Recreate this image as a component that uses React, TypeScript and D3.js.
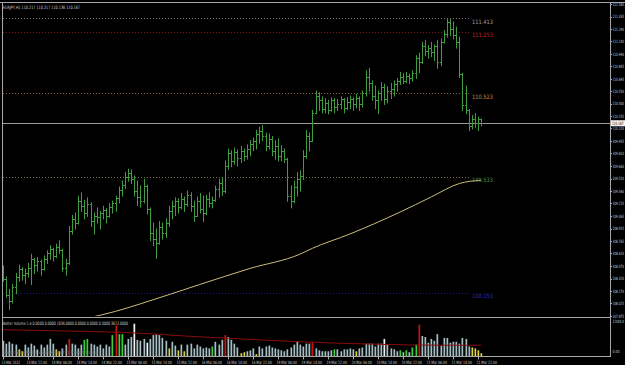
import React from "react";
import * as d3 from "d3";

const W = 625;
const H = 365;

const symbolTitle = "EURJPY,H1  110.217 110.217 110.136 110.167";
const volumeTitle = "Better Volume 1.4 0.0000 0.0000 1036.0000 0.0000 0.0000 0.0000 3672.0000";
const volumeFooter = "Better Volume 1.4  Volumes(Shift 1)  0.0000  0.0000";

const opens = [
  108.43, 108.31, 108.12, 108.05, 108.22, 108.34, 108.43, 108.36, 108.39, 108.45,
  108.55, 108.48, 108.53, 108.43, 108.55, 108.62, 108.67, 108.59, 108.69, 108.66,
  108.45, 108.50, 108.88, 109.03, 108.98, 109.24, 109.18, 109.10, 109.21, 109.00,
  109.07, 109.05, 109.10, 109.13, 109.07, 109.17, 109.22, 109.28, 109.37, 109.43,
  109.53, 109.58, 109.50, 109.36, 109.29, 109.24, 109.42, 109.15, 108.86, 108.79,
  108.74, 108.93, 108.86, 108.98, 109.12, 109.18, 109.24, 109.17, 109.27, 109.21,
  109.31, 109.18, 109.07, 109.24, 109.15, 109.10, 109.27, 109.22, 109.25, 109.39,
  109.46, 109.36, 109.66, 109.81, 109.72, 109.83, 109.75, 109.84, 109.78, 109.86,
  109.92, 109.96, 110.04, 110.08, 110.01, 109.90, 109.98, 109.84, 109.90, 109.78,
  109.84, 109.74, 109.30, 109.24, 109.41, 109.50, 109.54, 109.78, 110.02, 109.96,
  110.29, 110.49, 110.44, 110.34, 110.41, 110.32, 110.44, 110.36, 110.40, 110.45,
  110.35, 110.42, 110.46, 110.39, 110.47, 110.39, 110.53, 110.72, 110.65, 110.49,
  110.44, 110.53, 110.60, 110.46, 110.55, 110.58, 110.63, 110.67, 110.72, 110.67,
  110.73, 110.70, 110.76, 110.94, 110.89, 111.09, 111.03, 111.06, 111.01, 111.08,
  110.89, 111.13, 111.23, 111.37, 111.29, 111.22, 111.13, 110.75, 110.38, 110.32,
  110.14, 110.22, 110.17, 110.217,
];
const highs = [
  108.47, 108.34, 108.19, 108.25, 108.38, 108.48, 108.45, 108.43, 108.50, 108.61,
  108.56, 108.57, 108.54, 108.59, 108.65, 108.71, 108.68, 108.73, 108.77, 108.67,
  108.55, 108.94, 109.07, 109.10, 109.30, 109.34, 109.25, 109.28, 109.22, 109.10,
  109.16, 109.12, 109.18, 109.15, 109.21, 109.24, 109.30, 109.41, 109.48, 109.58,
  109.62, 109.61, 109.54, 109.48, 109.42, 109.50, 109.43, 109.16, 108.98, 108.91,
  109.00, 108.98, 109.03, 109.18, 109.24, 109.28, 109.27, 109.33, 109.29, 109.36,
  109.34, 109.24, 109.29, 109.33, 109.30, 109.31, 109.34, 109.29, 109.42, 109.50,
  109.52, 109.72, 109.86, 109.84, 109.87, 109.85, 109.89, 109.86, 109.91, 109.96,
  109.99, 110.08, 110.12, 110.14, 110.05, 110.04, 110.01, 109.96, 109.98, 109.90,
  109.86, 109.75, 109.42, 109.48, 109.58, 109.60, 109.84, 110.08, 110.05, 110.32,
  110.55, 110.53, 110.48, 110.46, 110.44, 110.47, 110.46, 110.45, 110.48, 110.46,
  110.47, 110.49, 110.47, 110.51, 110.48, 110.55, 110.79, 110.82, 110.67, 110.61,
  110.55, 110.65, 110.63, 110.60, 110.64, 110.67, 110.70, 110.77, 110.76, 110.77,
  110.75, 110.79, 110.97, 111.00, 111.13, 111.15, 111.09, 111.13, 111.10, 111.15,
  111.17, 111.27, 111.413, 111.40, 111.37, 111.31, 111.19, 110.76, 110.61, 110.33,
  110.26, 110.28, 110.24, 110.217,
];
const lows = [
  108.29, 108.10, 107.95, 108.03, 108.14, 108.29, 108.30, 108.26, 108.34, 108.25,
  108.38, 108.41, 108.36, 108.42, 108.50, 108.55, 108.53, 108.57, 108.62, 108.41,
  108.36, 108.49, 108.85, 108.91, 108.97, 109.12, 109.03, 109.06, 108.94, 108.85,
  108.98, 108.91, 109.03, 108.98, 109.05, 109.10, 109.12, 109.22, 109.30, 109.39,
  109.48, 109.45, 109.30, 109.19, 109.17, 109.22, 109.09, 108.77, 108.71, 108.56,
  108.73, 108.79, 108.81, 108.94, 109.03, 109.07, 109.10, 109.15, 109.12, 109.18,
  109.12, 109.00, 109.06, 109.10, 109.00, 109.08, 109.17, 109.16, 109.24, 109.29,
  109.31, 109.34, 109.62, 109.65, 109.68, 109.66, 109.70, 109.72, 109.74, 109.78,
  109.84, 109.86, 109.93, 109.96, 109.84, 109.86, 109.78, 109.74, 109.72, 109.72,
  109.70, 109.24, 109.16, 109.22, 109.30, 109.36, 109.50, 109.75, 109.84, 109.95,
  110.28, 110.32, 110.29, 110.29, 110.28, 110.31, 110.29, 110.32, 110.34, 110.29,
  110.33, 110.34, 110.32, 110.35, 110.32, 110.36, 110.49, 110.55, 110.44, 110.34,
  110.28, 110.44, 110.39, 110.41, 110.46, 110.49, 110.55, 110.63, 110.64, 110.65,
  110.64, 110.67, 110.70, 110.77, 110.88, 110.97, 110.94, 110.96, 110.91, 110.82,
  110.85, 111.12, 111.19, 111.21, 111.17, 111.06, 110.71, 110.32, 110.28, 110.08,
  110.10, 110.12, 110.08, 110.136,
];
const closes = [
  108.31, 108.12, 108.05, 108.22, 108.34, 108.43, 108.36, 108.39, 108.45, 108.55,
  108.48, 108.53, 108.43, 108.55, 108.62, 108.67, 108.59, 108.69, 108.66, 108.45,
  108.50, 108.88, 109.03, 108.98, 109.24, 109.18, 109.10, 109.21, 109.00, 109.07,
  109.05, 109.10, 109.13, 109.07, 109.17, 109.22, 109.28, 109.37, 109.43, 109.53,
  109.58, 109.50, 109.36, 109.29, 109.24, 109.42, 109.15, 108.86, 108.79, 108.74,
  108.93, 108.86, 108.98, 109.12, 109.18, 109.24, 109.17, 109.27, 109.21, 109.31,
  109.18, 109.07, 109.24, 109.15, 109.10, 109.27, 109.22, 109.25, 109.39, 109.46,
  109.36, 109.66, 109.81, 109.72, 109.83, 109.75, 109.84, 109.78, 109.86, 109.92,
  109.96, 110.04, 110.08, 110.01, 109.90, 109.98, 109.84, 109.90, 109.78, 109.84,
  109.74, 109.30, 109.24, 109.41, 109.50, 109.54, 109.78, 110.02, 109.96, 110.29,
  110.49, 110.44, 110.34, 110.41, 110.32, 110.44, 110.36, 110.40, 110.45, 110.35,
  110.42, 110.46, 110.39, 110.47, 110.39, 110.53, 110.72, 110.65, 110.49, 110.44,
  110.53, 110.60, 110.46, 110.55, 110.58, 110.63, 110.67, 110.72, 110.67, 110.73,
  110.70, 110.76, 110.94, 110.89, 111.09, 111.03, 111.06, 111.01, 111.08, 110.89,
  111.13, 111.23, 111.37, 111.29, 111.22, 111.13, 110.75, 110.38, 110.32, 110.14,
  110.22, 110.17, 110.22, 110.167,
];

// Moving average of price (bar index, value)
const maBars = [27, 36, 44, 63, 79, 95, 99, 111, 127, 137, 146, 153];
const maValues = [107.85, 107.93, 108.02, 108.25, 108.44, 108.61, 108.68, 108.85, 109.11, 109.29, 109.45, 109.49];

const volumes = [
  4800, 3900, 4500, 3900, 3600, 2100, 1500, 3600, 2700, 3900,
  3300, 2100, 3600, 2700, 3600, 5400, 3900, 2100, 1500, 2400,
  3600, 5400, 3900, 3600, 2400, 3600, 5100, 5400, 3900, 3600,
  3000, 3600, 2400, 3600, 3000, 6600, 9600, 6900, 6900, 3600,
  5400, 6000, 10200, 5100, 4800, 5400, 4200, 5400, 6600, 6900,
  6600, 5700, 4800, 2400, 4500, 3300, 1800, 3600, 1500, 3600,
  3900, 2400, 3600, 3000, 2400, 2700, 2400, 3000, 4500, 3600,
  5100, 6600, 6000, 5100, 3900, 2700, 900, 1200, 1500, 1800,
  2400, 600, 3000, 2400, 3000, 3300, 2700, 2400, 2100, 1800,
  1500, 2100, 2700, 3600, 4500, 3600, 3000, 3900, 3900, 4500,
  2400, 1800, 1500, 1500, 1500, 1800, 2100, 2100, 1500, 2100,
  2100, 2400, 2100, 1500, 2400, 2700, 3900, 3900, 3900, 3000,
  3900, 3900, 5400, 3600, 2400, 2100, 1500, 1800, 1200, 1800,
  1200, 2700, 3600, 9900, 6300, 6000, 4200, 5400, 4800, 6900,
  3300, 5700, 5700, 4200, 4500, 4500, 3900, 5700, 5400, 3000,
  2700, 2400, 1800, 900,
];
const yellowBars = [5, 6, 17, 18, 53, 56, 58, 76, 77, 81, 113, 150, 151, 152, 153];
const greenBars = [26, 27, 35, 37, 38, 67, 106, 127, 129, 131, 132];
const redBars = [21, 36, 71, 99, 133];
const whiteBars = [42, 46, 122];

const volMaBars = [0, 20, 40, 60, 80, 100, 120, 140, 153];
const volMaValues = [8300, 7900, 7400, 6200, 5200, 4300, 3700, 3400, 3400];

const priceTicks = [
  "111.585", "111.435", "111.290", "111.140", "110.990", "110.845", "110.695", "110.550",
  "110.400", "110.255", "110.105", "109.955", "109.810", "109.660", "109.510", "109.360",
  "109.215", "109.065", "108.915", "108.765", "108.620", "108.470", "108.320", "108.170",
  "108.025", "107.875",
];
const timeLabels = [
  "13 Mar 2012", "13 Mar 22:00", "14 Mar 06:00", "14 Mar 14:00", "14 Mar 22:00",
  "15 Mar 06:00", "15 Mar 14:00", "15 Mar 22:00", "16 Mar 06:00", "16 Mar 14:00",
  "16 Mar 22:00", "19 Mar 06:00", "19 Mar 14:00", "19 Mar 22:00", "20 Mar 06:00",
  "20 Mar 14:00", "20 Mar 22:00", "21 Mar 06:00", "21 Mar 14:00", "21 Mar 22:00",
];
const timeLabelBars = [0, 8, 16, 24, 32, 40, 48, 56, 64, 72, 80, 88, 96, 104, 112, 120, 128, 136, 144, 152];

const levelValues = [111.413, 111.253, 110.523, 109.533, 108.153];
const levelLineColors = ["#747474", "#8a1414", "#8a5e3c", "#7a6c50", "#1c1c8a"];
const levelLabelColors = ["#a0a0a0", "#c02020", "#cc8844", "#4a964a", "#2c2cbc"];
const bidPrice = 110.167;
const volTopLabel = "12004.0";
const volBottomLabel = "0.00";

const FONT = "'DejaVu Sans', Arial, sans-serif";
const SX = 0.62;

// small text squeezed horizontally (MT4 pixel font look)
function T(props: {
  x: number;
  y: number;
  w: number;
  size: number;
  fill: string;
  children: string;
}) {
  const { x, y, w, size, fill, children } = props;
  return (
    <text
      transform={`translate(${x},${y}) scale(${SX},1)`}
      fontSize={size}
      fill={fill}
      textLength={w / SX}
      lengthAdjust="spacingAndGlyphs"
    >
      {children}
    </text>
  );
}

export default function App() {
  const x = d3.scaleLinear().domain([0, 153]).range([3, 3 + 153 * 3.125]);
  const y = d3.scaleLinear().domain([107.875, 111.585]).range([316, 4]);
  const yv = d3.scaleLinear().domain([0, 12004]).range([356, 318]);

  const px = (i: number) => Math.round(x(i)) + 0.5;
  const snap = (v: number) => Math.round(v) + 0.5;

  const maLine = d3
    .line<number>()
    .x((_, k) => x(maBars[k]))
    .y((v) => y(v))
    .curve(d3.curveMonotoneX)(maValues) as string;

  const volMaLine = d3
    .line<number>()
    .x((_, k) => x(volMaBars[k]))
    .y((v) => yv(v))
    .curve(d3.curveMonotoneX)(volMaValues) as string;

  const volColor = (i: number) => {
    if (redBars.includes(i)) return "#d01010";
    if (greenBars.includes(i)) return "#3ccf3c";
    if (yellowBars.includes(i)) return "#e0d23c";
    if (whiteBars.includes(i)) return "#f4f4f4";
    return "#a4c0c6";
  };

  const barColor = "#3f9c3f";
  const frame = "#a8a8a8";
  const textColor = "#cfcfcf";

  return (
    <svg
      width={W}
      height={H}
      style={{ position: "fixed", left: 0, top: 0, background: "#000", display: "block" }}
      fontFamily={FONT}
    >
      <rect x={0} y={0} width={W} height={H} fill="#000" />
      <defs>
        <clipPath id="mainClip">
          <rect x={3} y={3} width={607} height={313} />
        </clipPath>
        <clipPath id="volClip">
          <rect x={3} y={318} width={607} height={38} />
        </clipPath>
      </defs>

      {/* frame */}
      <line x1={0} x2={W} y1={2.5} y2={2.5} stroke={frame} strokeWidth={1} />
      <line x1={2.5} x2={2.5} y1={2.5} y2={357} stroke={frame} strokeWidth={1} />
      <line x1={610.5} x2={610.5} y1={2.5} y2={357} stroke={frame} strokeWidth={1} />
      <line x1={2.5} x2={610.5} y1={317.5} y2={317.5} stroke={frame} strokeWidth={1} />
      <line x1={2.5} x2={610.5} y1={356.5} y2={356.5} stroke={frame} strokeWidth={1} />

      <g clipPath="url(#mainClip)">
        {levelValues.map((v, k) => (
          <line
            key={"lv" + k}
            x1={3}
            x2={470}
            y1={snap(y(v))}
            y2={snap(y(v))}
            stroke={levelLineColors[k]}
            strokeWidth={1}
            strokeDasharray="1,2"
          />
        ))}
        <line x1={3} x2={610} y1={snap(y(bidPrice))} y2={snap(y(bidPrice))} stroke="#9a9a9a" strokeWidth={1} />
        <path d={maLine} fill="none" stroke="#cdbd7a" strokeWidth={1} />
        {opens.map((o, i) => {
          const cx = px(i);
          return (
            <g key={"b" + i} stroke={barColor} strokeWidth={1}>
              <line x1={cx} x2={cx} y1={y(highs[i]) - 0.5} y2={y(lows[i]) + 0.5} />
              <line x1={cx - 1.5} x2={cx} y1={snap(y(o))} y2={snap(y(o))} />
              <line x1={cx} x2={cx + 1.5} y1={snap(y(closes[i]))} y2={snap(y(closes[i]))} />
            </g>
          );
        })}
      </g>
      {levelValues.map((v, k) => (
        <T key={"ll" + k} x={472} y={y(v) + 5.5} w={21} size={6} fill={levelLabelColors[k]}>
          {v.toFixed(3)}
        </T>
      ))}

      <T x={3} y={8.5} w={77} size={4.6} fill={textColor}>
        {symbolTitle}
      </T>

      {priceTicks.map((t) => {
        const yy = y(parseFloat(t));
        return (
          <g key={"pt" + t}>
            <line x1={610} x2={612} y1={snap(yy)} y2={snap(yy)} stroke={frame} />
            <T x={612.5} y={yy + 1.7} w={11.5} size={4.4} fill={textColor}>
              {t}
            </T>
          </g>
        );
      })}
      <rect x={611} y={y(bidPrice) - 3} width={14} height={6} fill="#f4f4f4" />
      <T x={612} y={y(bidPrice) + 1.7} w={11.5} size={4.4} fill="#000">
        {bidPrice.toFixed(3)}
      </T>

      <g clipPath="url(#volClip)">
        {volumes.map((v, i) => (
          <rect
            key={"v" + i}
            x={Math.round(x(i)) - 0.5}
            y={yv(v)}
            width={1.7}
            height={yv(0) - yv(v)}
            fill={volColor(i)}
          />
        ))}
        <path d={volMaLine} fill="none" stroke="#8a0c0c" strokeWidth={1} />
      </g>
      <T x={3} y={324.5} w={125} size={4.6} fill={textColor}>
        {volumeTitle}
      </T>
      <T x={3} y={354} w={95} size={4.4} fill="#7c7c7c">
        {volumeFooter}
      </T>
      <T x={612.5} y={322.5} w={11.5} size={4.4} fill={textColor}>
        {volTopLabel}
      </T>
      <T x={612.5} y={353} w={7} size={4.4} fill={textColor}>
        {volBottomLabel}
      </T>

      {timeLabels.map((t, k) => {
        const bx = snap(x(timeLabelBars[k]));
        return (
          <g key={"tl" + k}>
            <line x1={bx} x2={bx} y1={357} y2={359.5} stroke={frame} />
            <T x={bx - 2} y={363.5} w={t.length * 1.7} size={4.4} fill={textColor}>
              {t}
            </T>
          </g>
        );
      })}
    </svg>
  );
}
